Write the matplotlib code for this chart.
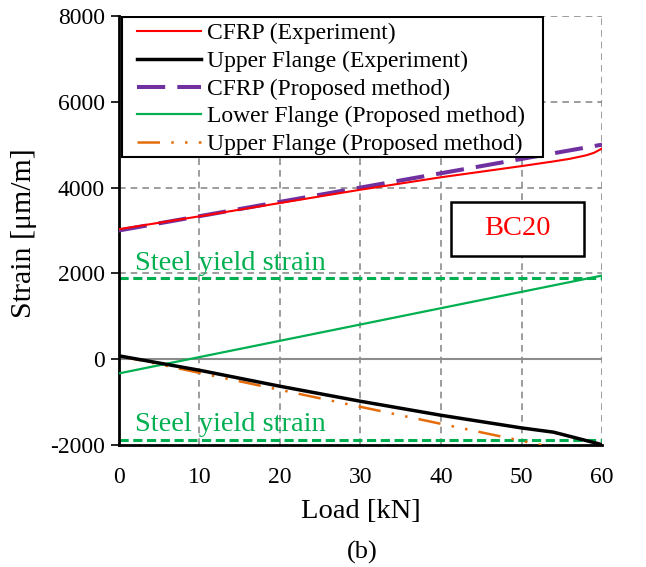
import matplotlib
matplotlib.use('Agg')
import matplotlib.pyplot as plt
from matplotlib.patches import Rectangle

plt.rcParams['font.family'] = ['Liberation Serif', 'DejaVu Serif']
plt.rcParams['axes.unicode_minus'] = False

# load [kN] and strain [um/m] for BC20
load_cfrp_exp = [0, 10, 20, 30, 40, 50, 54, 56, 58, 59, 60]
cfrp_exp = [3030, 3330, 3640, 3950, 4240, 4500, 4610, 4670, 4750, 4810, 4910]

load_upper_exp = [0, 10, 20, 30, 40, 50, 54, 60]
upper_exp = [80, -256, -629, -979, -1305, -1600, -1700, -1990]

load_prop = [0, 60]
cfrp_prop = [3000, 5000]
lower_prop = [-330, 1950]

load_upper_prop = [0, 52.5]
upper_prop = [80, -2000]

yield_strain = 1885

x_ticks = [0, 10, 20, 30, 40, 50, 60]
y_ticks = [-2000, 0, 2000, 4000, 6000, 8000]

fig = plt.figure(figsize=(6.46, 5.67), dpi=100)
ax = fig.add_axes([0.184, 0.215, 0.748, 0.757])

grid_kw = dict(color='#8c8c8c', lw=1.2, dashes=(4, 3), zorder=1)
for xv in x_ticks[1:]:
    ax.axvline(xv, **grid_kw)
for yv in y_ticks[2:]:
    ax.axhline(yv, **grid_kw)
ax.axhline(0, color='#8c8c8c', lw=1.5, zorder=1)

# steel yield strain limits
ax.axhline(yield_strain, color='#00b050', lw=2.2, dashes=(3, 1.5), zorder=2)
ax.axhline(-yield_strain, color='#00b050', lw=2.2, dashes=(3, 1.5), zorder=2)
ax.text(2.0, 2070, 'Steel yield strain', color='#00b050', fontsize=20.5, va='baseline')
ax.text(2.0, -1680, 'Steel yield strain', color='#00b050', fontsize=20.5, va='baseline')

ax.plot(load_cfrp_exp, cfrp_exp, color='#ff0000', lw=1.5, label='CFRP (Experiment)', zorder=4)
ax.plot(load_upper_exp, upper_exp, color='black', lw=2.5, label='Upper Flange (Experiment)', zorder=4)
ax.plot(load_prop, cfrp_prop, color='#7030a0', lw=2.9, dashes=(7, 3), label='CFRP (Proposed method)', zorder=3)
ax.plot(load_prop, lower_prop, color='#00b050', lw=1.6, label='Lower Flange (Proposed method)', zorder=3)
ax.plot(load_upper_prop, upper_prop, color='#e46c0a', lw=1.8, dashes=(9, 4.5, 1, 4.5, 1, 4.5),
        label='Upper Flange (Proposed method)', zorder=3)

ax.set_xlim(0, 60)
ax.set_ylim(-2000, 8000)
ax.set_xticks(x_ticks)
ax.set_yticks(y_ticks)
ax.tick_params(axis='x', length=0, pad=16, labelsize=17)
ax.tick_params(axis='y', length=6, width=1.2, direction='out', labelsize=17, pad=4)
for s in ['top', 'right']:
    ax.spines[s].set_visible(False)
for s in ['left', 'bottom']:
    ax.spines[s].set_linewidth(2)

ax.set_xlabel('Load [kN]', fontsize=20.5, labelpad=8)
fig.text(24 / 646, 1 - 233 / 567, 'Strain [μm/m]', rotation=90, fontsize=21.5, ha='center', va='center')
fig.text(0.560, 1 - 552 / 567, '(b)', fontsize=19, ha='center', va='center')

leg = ax.legend(loc='upper left', bbox_to_anchor=(0.0366, 0.9836), fontsize=17, frameon=False,
                handlelength=2.75, handletextpad=0.25, labelspacing=0.26,
                borderpad=0, borderaxespad=0)
leg.set_zorder(7)
ax.add_patch(Rectangle((0.0056, 0.672), 0.8724, 0.3257, transform=ax.transAxes,
                       fc='white', ec='black', lw=1.5, zorder=6))

# specimen tag
ax.add_patch(Rectangle((0.687, 0.4406), 0.276, 0.1264, transform=ax.transAxes,
                       fc='white', ec='black', lw=1.8, zorder=5))
ax.text(0.825, 0.504, 'BC20', transform=ax.transAxes, color='#ff0000', fontsize=20.5,
        ha='center', va='center', zorder=6)

fig.savefig('out.png', dpi=100)
